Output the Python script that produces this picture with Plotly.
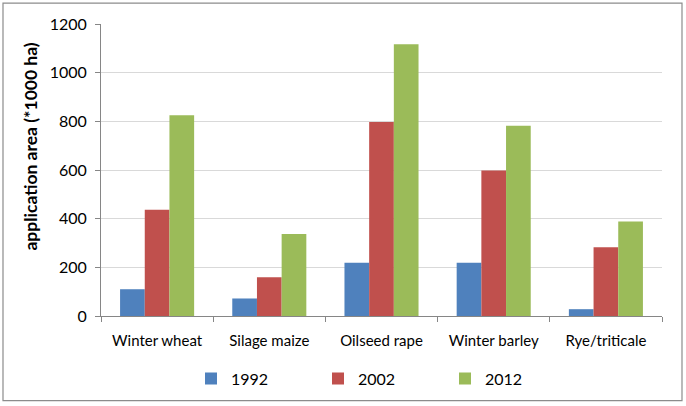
import plotly.graph_objects as go

# ── Data ───────────────────────────────────────────────────────────────────
crops = ["Winter wheat", "Silage maize", "Oilseed rape", "Winter barley", "Rye/triticale"]
area_1992 = [110, 72, 219, 219, 28]
area_2002 = [437, 159, 797, 598, 283]
area_2012 = [825, 337, 1117, 782, 388]

years = ["1992", "2002", "2012"]
series = [area_1992, area_2002, area_2012]

# ── Palette ────────────────────────────────────────────────────────────────
COLORS = ["#4F81BD", "#C0504D", "#9BBB59"]
C_GRID = "#D9D9D9"
C_AXIS = "#868686"
C_TEXT = "#000000"
FONT = "Lato, sans-serif"

W, H = 686, 406
L, R, T, B = 101, 24, 24, 89

fig = go.Figure()
for yr, vals, col in zip(years, series, COLORS):
    fig.add_trace(go.Bar(
        x=crops, y=vals, name=yr,
        marker=dict(color=col, line=dict(width=0)),
    ))

# outer frame around the whole picture
pw, ph = W - L - R, H - T - B
fig.add_shape(
    type="rect", xref="paper", yref="paper",
    x0=(3 - L) / pw, x1=(W - 4 - L) / pw,
    y0=(H - B - (H - 4)) / ph, y1=(H - B - 3) / ph,
    line=dict(color="#8C8C8C", width=1.2), fillcolor="rgba(0,0,0,0)",
    layer="below",
)

# y-axis title (sits a little above the plot centre, as in the source)
fig.add_annotation(
    xref="paper", yref="paper",
    x=(31 - L) / pw, y=(H - B - 147) / ph,
    xanchor="center", yanchor="middle",
    text="<b>application area (*1000 ha)</b>",
    textangle=-90, showarrow=False,
    font=dict(size=17.5, family=FONT, color=C_TEXT),
)

fig.update_layout(
    width=W, height=H,
    margin=dict(l=L, r=R, t=T, b=B),
    paper_bgcolor="white", plot_bgcolor="white",
    font=dict(family=FONT, color=C_TEXT, size=15),
    barmode="group", bargap=0.34, bargroupgap=0,
    xaxis=dict(
        showgrid=False, zeroline=False,
        showline=True, linecolor=C_AXIS, linewidth=1,
        ticks="outside", tickson="boundaries", ticklen=5, tickcolor=C_AXIS,
        tickfont=dict(size=15, family=FONT, color=C_TEXT),
        ticklabelstandoff=11,
    ),
    yaxis=dict(
        range=[0, 1200], dtick=200,
        showgrid=True, gridcolor=C_GRID, gridwidth=1,
        zeroline=False,
        showline=True, linecolor=C_AXIS, linewidth=1,
        ticks="outside", ticklen=5, tickcolor=C_AXIS,
        tickfont=dict(size=16, family=FONT, color=C_TEXT),
        ticklabelstandoff=5,
    ),
    legend=dict(
        orientation="h",
        x=0.5, xanchor="center",
        y=-0.21, yanchor="middle",
        font=dict(size=16, family=FONT, color=C_TEXT),
        bgcolor="rgba(0,0,0,0)",
        entrywidth=82, entrywidthmode="pixels",
    ),
    showlegend=True,
)

fig.write_html(
    "out.html",
    config={"displayModeBar": False},
    post_script="document.body.style.margin='0';",
)
